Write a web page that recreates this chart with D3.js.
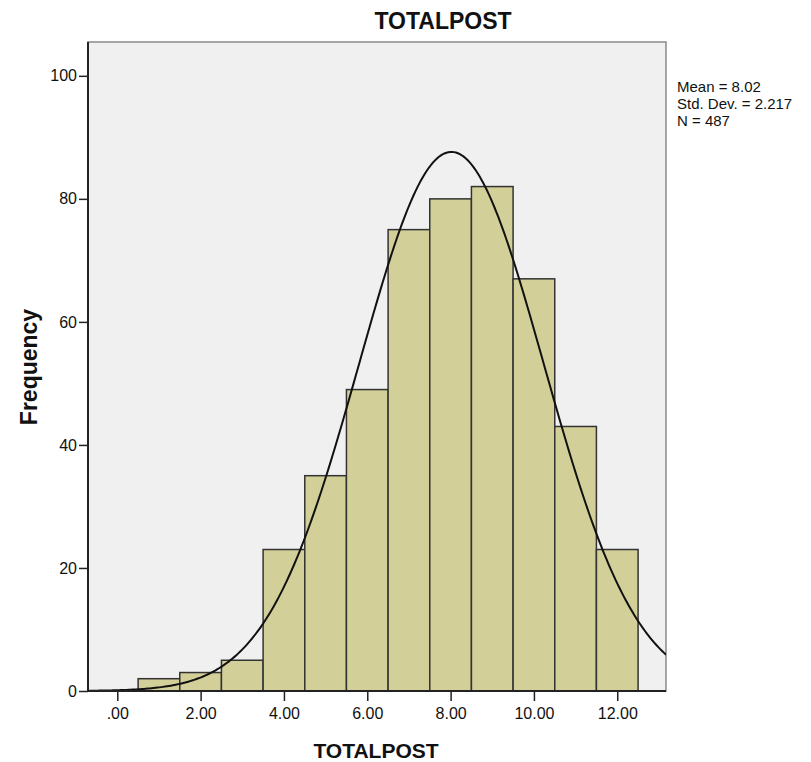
<!DOCTYPE html>
<head>
  <meta charset="utf-8">
  <script src="https://d3js.org/d3.v7.min.js"></script>
  <style>
    body { margin:0; background:white; }
    svg { display:block; font-family: Arial, "Liberation Sans", sans-serif; }
    .tick text { font-size:16px; fill:#111; }
  </style>
</head>
<body>
<script>
  // histogram bins (centre of bin) and counts
  var binCentres = [1, 2, 3, 4, 5, 6, 7, 8, 9, 10, 11, 12];
  var counts = [2, 3, 5, 23, 35, 49, 75, 80, 82, 67, 43, 23];
  var xTicks = [0, 2, 4, 6, 8, 10, 12];
  var yTicks = [0, 20, 40, 60, 80, 100];
  var stats = { mean: 8.02, sd: 2.217, n: 487 };
  var statLines = ["Mean = 8.02", "Std. Dev. = 2.217", "N = 487"];
  var binWidth = 1;

  var width = 811, height = 762;
  var plot = { left: 88, top: 42, right: 666, bottom: 691 };

  var svg = d3.select("body").append("svg")
    .attr("width", width)
    .attr("height", height);

  var x = d3.scaleLinear()
    .domain([-0.703, 13.17])
    .range([plot.left, plot.right]);

  var y = d3.scaleLinear()
    .domain([0, 105.5])
    .range([plot.bottom, plot.top]);

  // plot background + grey frame
  svg.append("rect")
    .attr("x", plot.left).attr("y", plot.top)
    .attr("width", plot.right - plot.left)
    .attr("height", plot.bottom - plot.top)
    .attr("fill", "#f0f0f0")
    .attr("stroke", "#8a8a8a")
    .attr("stroke-width", 1.5);

  svg.append("defs").append("clipPath").attr("id", "clip")
    .append("rect")
    .attr("x", plot.left).attr("y", plot.top)
    .attr("width", plot.right - plot.left)
    .attr("height", plot.bottom - plot.top);

  // bars
  svg.append("g").selectAll("rect")
    .data(binCentres)
    .enter().append("rect")
    .attr("x", function(d){ return x(d - binWidth/2); })
    .attr("y", function(d, i){ return y(counts[i]); })
    .attr("width", function(d){ return x(d + binWidth/2) - x(d - binWidth/2); })
    .attr("height", function(d, i){ return y(0) - y(counts[i]); })
    .attr("fill", "#d3cf98")
    .attr("stroke", "#333")
    .attr("stroke-width", 1.5);

  // fitted normal curve from the stats shown in the legend
  var curvePts = d3.range(0, 301).map(function(k){
    var v = x.domain()[0] + (x.domain()[1] - x.domain()[0]) * k / 300;
    var z = (v - stats.mean) / stats.sd;
    var f = stats.n * binWidth / (stats.sd * Math.sqrt(2 * Math.PI)) * Math.exp(-0.5 * z * z);
    return [v, f];
  });

  var line = d3.line()
    .x(function(d){ return x(d[0]); })
    .y(function(d){ return y(d[1]); });

  svg.append("path")
    .attr("clip-path", "url(#clip)")
    .attr("d", line(curvePts))
    .attr("fill", "none")
    .attr("stroke", "#111")
    .attr("stroke-width", 2);

  // axes
  var xAxis = d3.axisBottom(x)
    .tickValues(xTicks)
    .tickSize(10)
    .tickPadding(7)
    .tickFormat(function(d){ return d === 0 ? ".00" : d3.format(".2f")(d); });

  var yAxis = d3.axisLeft(y)
    .tickValues(yTicks)
    .tickSize(9)
    .tickPadding(2)
    .tickFormat(d3.format("d"));

  var gx = svg.append("g")
    .attr("transform", "translate(0," + plot.bottom + ")")
    .call(xAxis);
  gx.select(".domain").remove();
  gx.selectAll(".tick line").attr("stroke", "#222").attr("stroke-width", 1.5);

  var gy = svg.append("g")
    .attr("transform", "translate(" + plot.left + ",0)")
    .call(yAxis);
  gy.select(".domain").remove();
  gy.selectAll(".tick line").attr("stroke", "#222").attr("stroke-width", 1.5);

  // black axis lines on left and bottom
  svg.append("line")
    .attr("x1", plot.left).attr("x2", plot.left)
    .attr("y1", plot.top).attr("y2", plot.bottom)
    .attr("stroke", "#222").attr("stroke-width", 2);
  svg.append("line")
    .attr("x1", plot.left).attr("x2", plot.right)
    .attr("y1", plot.bottom).attr("y2", plot.bottom)
    .attr("stroke", "#222").attr("stroke-width", 2);

  // titles
  svg.append("text")
    .attr("x", 443).attr("y", 29)
    .attr("text-anchor", "middle")
    .attr("font-size", 23).attr("font-weight", "bold")
    .attr("fill", "#111")
    .text("TOTALPOST");

  svg.append("text")
    .attr("x", 376).attr("y", 758)
    .attr("text-anchor", "middle")
    .attr("font-size", 21).attr("font-weight", "bold")
    .attr("fill", "#111")
    .text("TOTALPOST");

  svg.append("text")
    .attr("transform", "translate(37,367) rotate(-90)")
    .attr("text-anchor", "middle")
    .attr("font-size", 23).attr("font-weight", "bold")
    .attr("fill", "#111")
    .text("Frequency");

  // stats legend
  svg.append("g").selectAll("text")
    .data(statLines)
    .enter().append("text")
    .attr("x", 677)
    .attr("y", function(d, i){ return 92 + i * 17; })
    .attr("font-size", 15)
    .attr("fill", "#111")
    .text(function(d){ return d; });
</script>
</body>
